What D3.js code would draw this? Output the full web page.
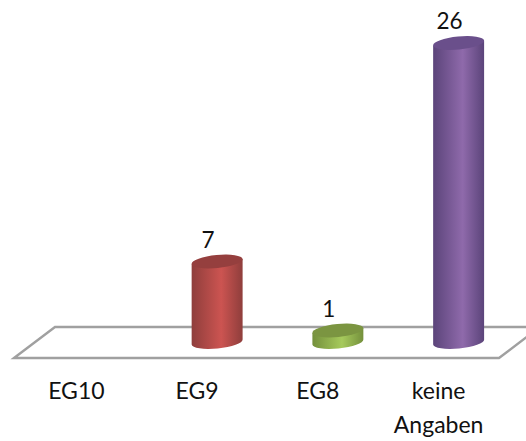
<!DOCTYPE html>
<html lang="de">
<head>
<meta charset="UTF-8">
<title>Entgeltgruppen</title>
<script src="https://cdn.jsdelivr.net/npm/d3@7"></script>
<style>
    html, body { margin: 0; padding: 0; background: #fff; }
    svg { display: block; }
    text { font-family: Lato, "Open Sans", sans-serif; fill: #111; }
</style>
</head>
<body>
<svg id="chart" width="526" height="441"></svg>
<script>
    let categories = ["EG10", "EG9", "EG8", "keine Angaben"]
    let values = [0, 7, 1, 26]
    let edge_colors = ["#4f81bd", "#8f3e3c", "#74903c", "#5b447a"]
    let mid_colors = ["#6f9fd8", "#cc5451", "#a6ca5c", "#8f6aab"]
    let top_colors = ["#4f81bd", "#953f3e", "#7b9541", "#6a4f8b"]

    let svg = d3.select("#chart")

    // x runs over the front of the floor, y is the bar height above the base
    let x = d3.scaleBand().domain(categories).range([16, 499]).paddingInner(0)
    let y = d3.scaleLinear().domain([0, 26]).range([342, 43])

    let rx = 25.6, ry = 6.5, tilt = -5.6
    let dx = rx * Math.cos(tilt * Math.PI / 180)
    let dy = rx * Math.sin(tilt * Math.PI / 180)

    // floor
    let floor_front = 358, floor_back = 327, floor_shift = 41
    let floor = d3.line()
    svg.append("path")
        .attr("d", floor([[14, floor_front], [14 + floor_shift, floor_back], [499 + floor_shift, floor_back], [499, floor_front]]) + "Z")
        .attr("fill", "none")
        .attr("stroke", "#a0a0a0")
        .attr("stroke-width", 2.4)

    // horizontal shading of the cylinders
    let defs = svg.append("defs")
    categories.forEach(function (c, i) {
        let grad = defs.append("linearGradient").attr("id", "body" + i)
        grad.append("stop").attr("offset", "0%").attr("stop-color", edge_colors[i])
        grad.append("stop").attr("offset", "58%").attr("stop-color", mid_colors[i])
        grad.append("stop").attr("offset", "100%").attr("stop-color", edge_colors[i])
    })

    function cx(d) {
        return x(d) + x.bandwidth() / 2 + 20
    }

    let bars = svg.append("g").selectAll("g")
        .data(categories.filter(function (c, i) { return values[i] > 0 }))
        .join("g")

    bars.append("path")
        .attr("fill", function (d) { return "url(#body" + categories.indexOf(d) + ")" })
        .attr("d", function (d) {
            let v = values[categories.indexOf(d)]
            let c = cx(d), t = y(v), b = y(0)
            return "M" + (c - dx) + "," + (t - dy)
                + "L" + (c - dx) + "," + (b - dy)
                + "A" + rx + "," + ry + " " + tilt + " 0 0 " + (c + dx) + "," + (b + dy)
                + "L" + (c + dx) + "," + (t + dy) + "Z"
        })

    bars.append("ellipse")
        .attr("rx", rx)
        .attr("ry", ry)
        .attr("fill", function (d) { return top_colors[categories.indexOf(d)] })
        .attr("transform", function (d) {
            return "translate(" + cx(d) + "," + y(values[categories.indexOf(d)]) + ") rotate(" + tilt + ")"
        })

    // value labels
    bars.append("text")
        .attr("x", function (d) { return cx(d) - 9 })
        .attr("y", function (d) { return y(values[categories.indexOf(d)]) - 14 })
        .attr("text-anchor", "middle")
        .style("font-size", "22.5px")
        .text(function (d) { return values[categories.indexOf(d)] })

    // category axis, long labels wrap on two lines
    let axis = svg.append("g")
        .attr("transform", "translate(0,372)")
        .call(d3.axisBottom(x).tickSize(0).tickPadding(0))
    axis.select(".domain").remove()
    axis.selectAll("text")
        .style("font-size", "23px")
        .style("font-family", "Lato, 'Open Sans', sans-serif")
        .attr("fill", "#111")
        .each(function (d) {
            let words = d.split(" ")
            let el = d3.select(this).text(null).attr("y", 0).attr("dy", null)
            words.forEach(function (w, i) {
                el.append("tspan")
                    .attr("x", 0)
                    .attr("y", 27 + i * 34)
                    .text(w)
            })
        })
</script>
</body>
</html>
